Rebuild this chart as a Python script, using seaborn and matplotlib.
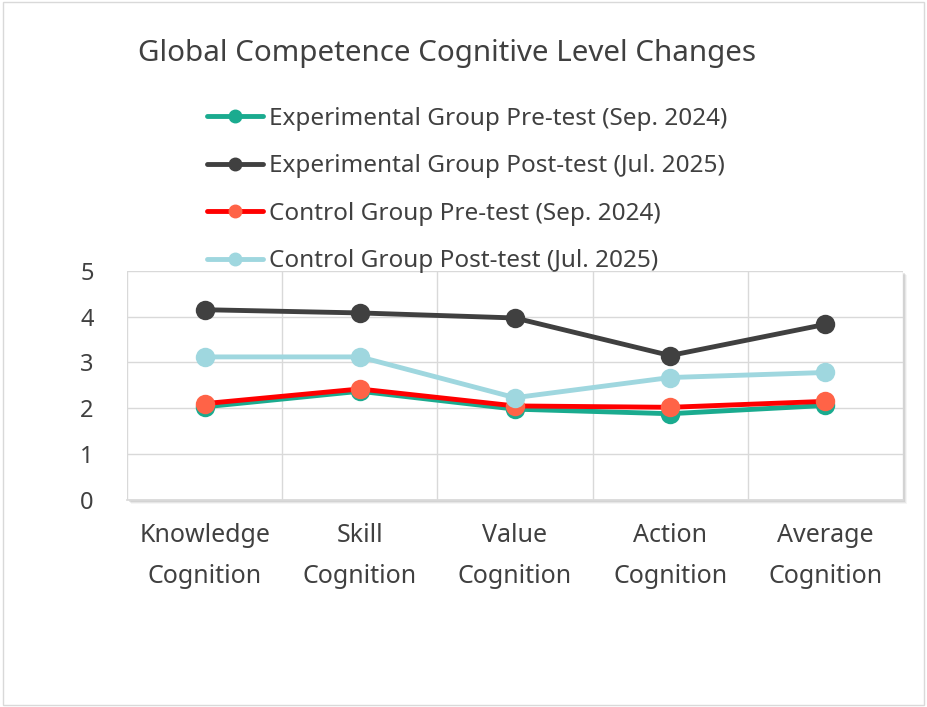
import matplotlib.pyplot as plt
import matplotlib.patches as mpatches
import pandas as pd
import seaborn as sns

categories = ["Knowledge\nCognition", "Skill\nCognition", "Value\nCognition",
              "Action\nCognition", "Average\nCognition"]
series_names = ["Experimental Group Pre-test (Sep. 2024)",
                "Experimental Group Post-test (Jul. 2025)",
                "Control Group Pre-test (Sep. 2024)",
                "Control Group Post-test (Jul. 2025)"]
exp_pre = [2.03, 2.37, 1.98, 1.88, 2.06]
exp_post = [4.15, 4.08, 3.97, 3.15, 3.83]
ctrl_pre = [2.10, 2.42, 2.05, 2.02, 2.15]
ctrl_post = [3.12, 3.12, 2.23, 2.67, 2.78]
y_ticks = [0, 1, 2, 3, 4, 5]

line_colors = ["#1aab8f", "#404040", "#ff0000", "#9fd7df"]
face_colors = ["#1aab8f", "#404040", "#ff6347", "#9fd7df"]

rows = []
for name, vals in zip(series_names, [exp_pre, exp_post, ctrl_pre, ctrl_post]):
    for i, v in enumerate(vals):
        rows.append({"pos": i, "value": v, "series": name})
df = pd.DataFrame(rows)

sns.set_theme(style="white")
plt.rcParams['font.family'] = ['Noto Sans', 'DejaVu Sans']
text_color = "#404040"

fig = plt.figure(figsize=(9.27, 7.07), dpi=100)
ax = fig.add_axes([0.137, 0.293, 0.837, 0.324])

# drop shadow behind plot area
for k, a in [(4, 0.08), (3, 0.12), (2, 0.18)]:
    dx = k / 927
    dy = k / 707
    shadow = mpatches.Rectangle((0.137 + dx, 0.293 - dy), 0.837, 0.324,
                                transform=fig.transFigure, facecolor="#808080",
                                alpha=a, edgecolor="none", zorder=0)
    fig.patches.append(shadow)
ax.set_facecolor("white")
ax.set_zorder(1)

sns.lineplot(data=df, x="pos", y="value", hue="series", hue_order=series_names,
             palette=line_colors, linewidth=3.5, marker="o", markersize=14,
             markeredgewidth=0, ax=ax, legend=False, zorder=3)
for line, fc in zip(ax.get_lines(), face_colors):
    line.set_markerfacecolor(fc)
    line.set_markeredgecolor(fc)

ax.set_xlim(-0.5, len(categories) - 0.5)
ax.set_ylim(0, 5)
ax.set_yticks(y_ticks)
ax.set_xticks(range(len(categories)))
ax.set_xticklabels(categories, fontsize=18, color=text_color, linespacing=1.8)
ax.set_xticks([i - 0.5 for i in range(len(categories) + 1)], minor=True)
ax.tick_params(axis="x", which="major", length=0, pad=17)
ax.tick_params(axis="x", which="minor", length=16, color="#d9d9d9", width=1)
ax.tick_params(axis="y", length=0, labelsize=17, labelcolor=text_color, pad=24)
ax.grid(True, axis="y", color="#d9d9d9", linewidth=1)
ax.grid(True, axis="x", which="minor", color="#d9d9d9", linewidth=1)
ax.set_xlabel("")
ax.set_ylabel("")
for s in ["top", "right", "left"]:
    ax.spines[s].set_visible(False)
ax.spines["bottom"].set_color("#d9d9d9")

fig.text(0.149, 0.924, "Global Competence Cognitive Level Changes",
         fontsize=21.3, color=text_color, va="center")

handles = [plt.Line2D([], [], color=lc, linewidth=3.5, marker="o", markersize=9,
                      markerfacecolor=fc, markeredgecolor=fc)
           for lc, fc in zip(line_colors, face_colors)]
leg = fig.legend(handles, series_names, loc="upper left",
                 bbox_to_anchor=(0.2125, 0.863), frameon=False, fontsize=17.5,
                 labelcolor=text_color, handlelength=2.3, handletextpad=0.25,
                 labelspacing=0.97, borderaxespad=0)

border = mpatches.Rectangle((0.003, 0.003), 0.994, 0.994, transform=fig.transFigure,
                            facecolor="none", edgecolor="#d9d9d9", linewidth=1)
fig.patches.append(border)

fig.savefig("out.png", dpi=100)
